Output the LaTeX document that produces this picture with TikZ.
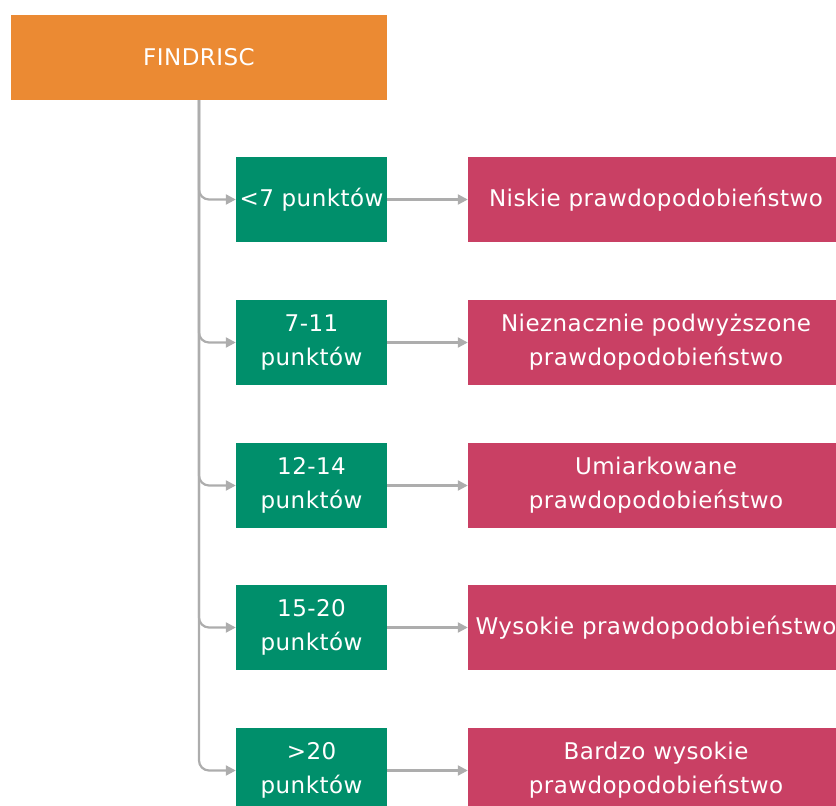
\documentclass[tikz,border=0pt]{standalone}
\usepackage{fontspec}
\setmainfont[LetterSpace=2]{DejaVu Sans}
\usetikzlibrary{arrows.meta}
\definecolor{findorange}{HTML}{EB8A33}
\definecolor{pointgreen}{HTML}{008F6B}
\definecolor{riskred}{HTML}{C94064}
\definecolor{linegray}{HTML}{ADADAD}
\begin{document}
\begin{tikzpicture}[x=1pt, y=-1pt,
  box/.style={rectangle, minimum height=85pt, inner sep=0pt, text=white, align=center, font=\fontsize{23}{34}\selectfont},
  scorebox/.style={box, fill=pointgreen, minimum width=151pt},
  riskbox/.style={box, fill=riskred, minimum width=376pt},
  link/.style={draw=linegray, line width=2.2pt, -{Triangle[length=10pt, width=10pt]}}]
\clip (0,0) rectangle (836,806);

% Main node
\node[box, fill=findorange, minimum width=376pt] (findrisc) at (199,57.5) {FINDRISC};

% Score nodes
\node[scorebox] (s1) at (311.5,199.5) {<7 punktów};
\node[scorebox] (s2) at (311.5,342.5) {7-11\\punktów};
\node[scorebox] (s3) at (311.5,485.5) {12-14\\punktów};
\node[scorebox] (s4) at (311.5,627.5) {15-20\\punktów};
\node[scorebox] (s5) at (311.5,770.5) {>20\\punktów};

% Risk nodes
\node[riskbox] (r1) at (656,199.5) {Niskie prawdopodobieństwo};
\node[riskbox] (r2) at (656,342.5) {Nieznacznie podwyższone\\prawdopodobieństwo};
\node[riskbox] (r3) at (656,485.5) {Umiarkowane\\prawdopodobieństwo};
\node[riskbox] (r4) at (656,627.5) {Wysokie prawdopodobieństwo};
\node[riskbox] (r5) at (656,770.5) {Bardzo wysokie\\prawdopodobieństwo};

% Connections
\draw[link, rounded corners=10pt] (findrisc.south) |- (s1.west);
\draw[link, rounded corners=10pt] (findrisc.south) |- (s2.west);
\draw[link, rounded corners=10pt] (findrisc.south) |- (s3.west);
\draw[link, rounded corners=10pt] (findrisc.south) |- (s4.west);
\draw[link, rounded corners=10pt] (findrisc.south) |- (s5.west);
\draw[link] (s1) -- (r1);
\draw[link] (s2) -- (r2);
\draw[link] (s3) -- (r3);
\draw[link] (s4) -- (r4);
\draw[link] (s5) -- (r5);
\end{tikzpicture}
\end{document}
